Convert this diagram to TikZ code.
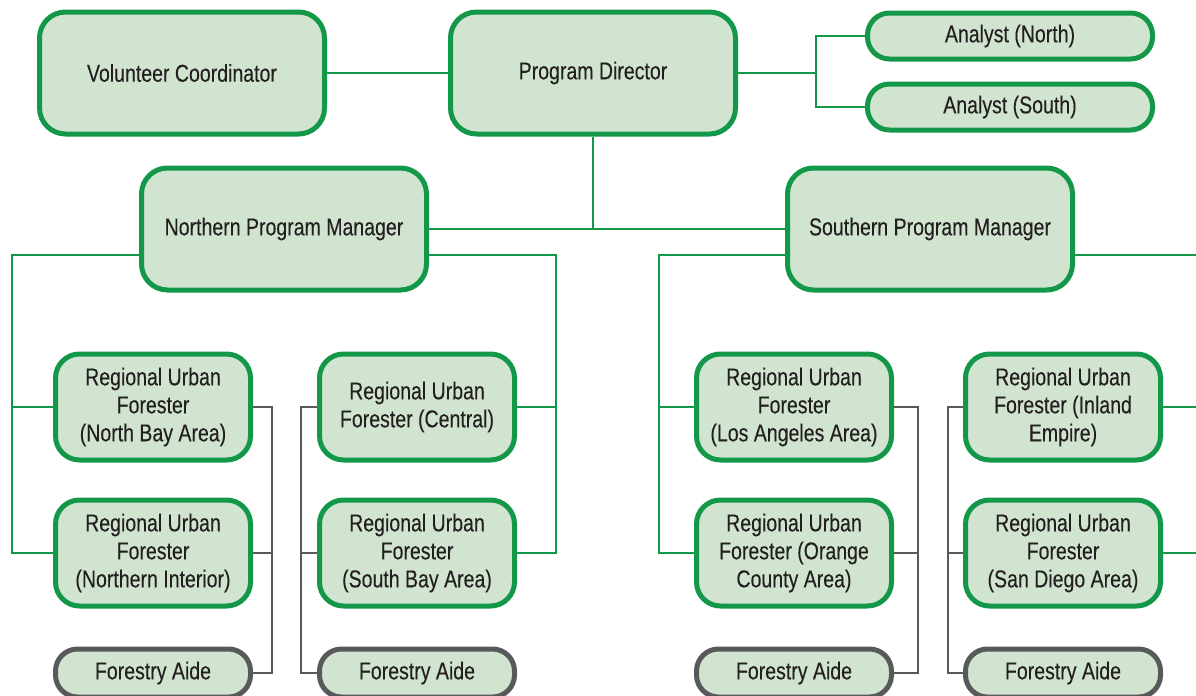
\documentclass[tikz,border=0pt]{standalone}
\usepackage{fontspec}
\setmainfont{Liberation Sans}[FakeStretch=0.8,FakeBold=0.15]
\usetikzlibrary{backgrounds}
\definecolor{orggreen}{HTML}{139849}
\definecolor{orgfill}{HTML}{D1E4CF}
\definecolor{orggray}{HTML}{58595B}
\definecolor{orgtext}{HTML}{231F20}
\tikzset{
  unit/.style={draw=orggreen,line width=2.5pt,fill=orgfill,rounded corners=13pt,
    align=center,text=orgtext,inner sep=0pt,font=\fontsize{12.2}{14}\selectfont},
  bigunit/.style={unit,minimum width=142.5pt,minimum height=61pt},
  analyst/.style={unit,rounded corners=11pt,minimum width=142.5pt,minimum height=23pt},
  regunit/.style={unit,rounded corners=12pt,minimum width=97.5pt,minimum height=53pt},
  aide/.style={regunit,draw=orggray,rounded corners=11pt,minimum height=24pt},
  link/.style={draw=orggreen,line width=1.4pt},
  glink/.style={draw=orggray,line width=1.4pt}
}
\begin{document}
\begin{tikzpicture}[x=0.5pt,y=-0.5pt]
\clip (0,0) rectangle (1196,696);
% top row
\node[bigunit] (vc) at (182,73) {Volunteer Coordinator};
\node[bigunit] (pd) at (593,73) {Program Director};
\node[analyst] (an) at (1010,36) {Analyst (North)};
\node[analyst] (as) at (1010,107) {Analyst (South)};
% managers
\node[bigunit] (npm) at (284,229) {Northern Program Manager};
\node[bigunit] (spm) at (930,229) {Southern Program Manager};
% regional foresters
\node[regunit] (nba) at (153,407) {Regional Urban\\Forester\\(North Bay Area)};
\node[regunit] (nin) at (153,553) {Regional Urban\\Forester\\(Northern Interior)};
\node[aide] (nfa) at (153,673) {Forestry Aide};
\node[regunit] (cen) at (417,407) {Regional Urban\\Forester (Central)};
\node[regunit] (sba) at (417,553) {Regional Urban\\Forester\\(South Bay Area)};
\node[aide] (cfa) at (417,673) {Forestry Aide};
\node[regunit] (la) at (794,407) {Regional Urban\\Forester\\(Los Angeles Area)};
\node[regunit] (oc) at (794,553) {Regional Urban\\Forester (Orange\\County Area)};
\node[aide] (lfa) at (794,673) {Forestry Aide};
\node[regunit] (ie) at (1063,407) {Regional Urban\\Forester (Inland\\Empire)};
\node[regunit] (sd) at (1063,553) {Regional Urban\\Forester\\(San Diego Area)};
\node[aide] (sfa) at (1063,673) {Forestry Aide};
% bus corners
\coordinate (aj) at (816,73);
\coordinate (nl) at (12,255);
\coordinate (nr) at (556,255);
\coordinate (sl) at (659,255);
\coordinate (sr) at (1210,255);
\coordinate (g1) at (272,407);
\coordinate (g2) at (301,407);
\coordinate (g3) at (918,407);
\coordinate (g4) at (948,407);
\begin{scope}[on background layer]
\draw[link] (vc.east) -- (pd.west);
\draw[link] (pd.east) -- (aj) |- (an.west);
\draw[link] (aj) |- (as.west);
\draw[link] (pd.south) -- (pd.south |- npm.east);
\draw[link] (npm.east) -- (spm.west);
\draw[link] (npm.west |- nl) -- (nl) |- (nin.west);
\draw[link] (nl |- nba.west) -- (nba.west);
\draw[link] (npm.east |- nr) -- (nr) |- (sba.east);
\draw[link] (nr |- cen.east) -- (cen.east);
\draw[link] (spm.west |- sl) -- (sl) |- (oc.west);
\draw[link] (sl |- la.west) -- (la.west);
\draw[link] (spm.east |- sr) -- (sr) |- (sd.east);
\draw[link] (sr |- ie.east) -- (ie.east);
\draw[glink] (nba.east) -- (g1) |- (nfa.east);
\draw[glink] (nin.east) -- (nin.east -| g1);
\draw[glink] (cen.west) -- (g2) |- (cfa.west);
\draw[glink] (sba.west) -- (sba.west -| g2);
\draw[glink] (la.east) -- (g3) |- (lfa.east);
\draw[glink] (oc.east) -- (oc.east -| g3);
\draw[glink] (ie.west) -- (g4) |- (sfa.west);
\draw[glink] (sd.west) -- (sd.west -| g4);
\end{scope}
\end{tikzpicture}
\end{document}
